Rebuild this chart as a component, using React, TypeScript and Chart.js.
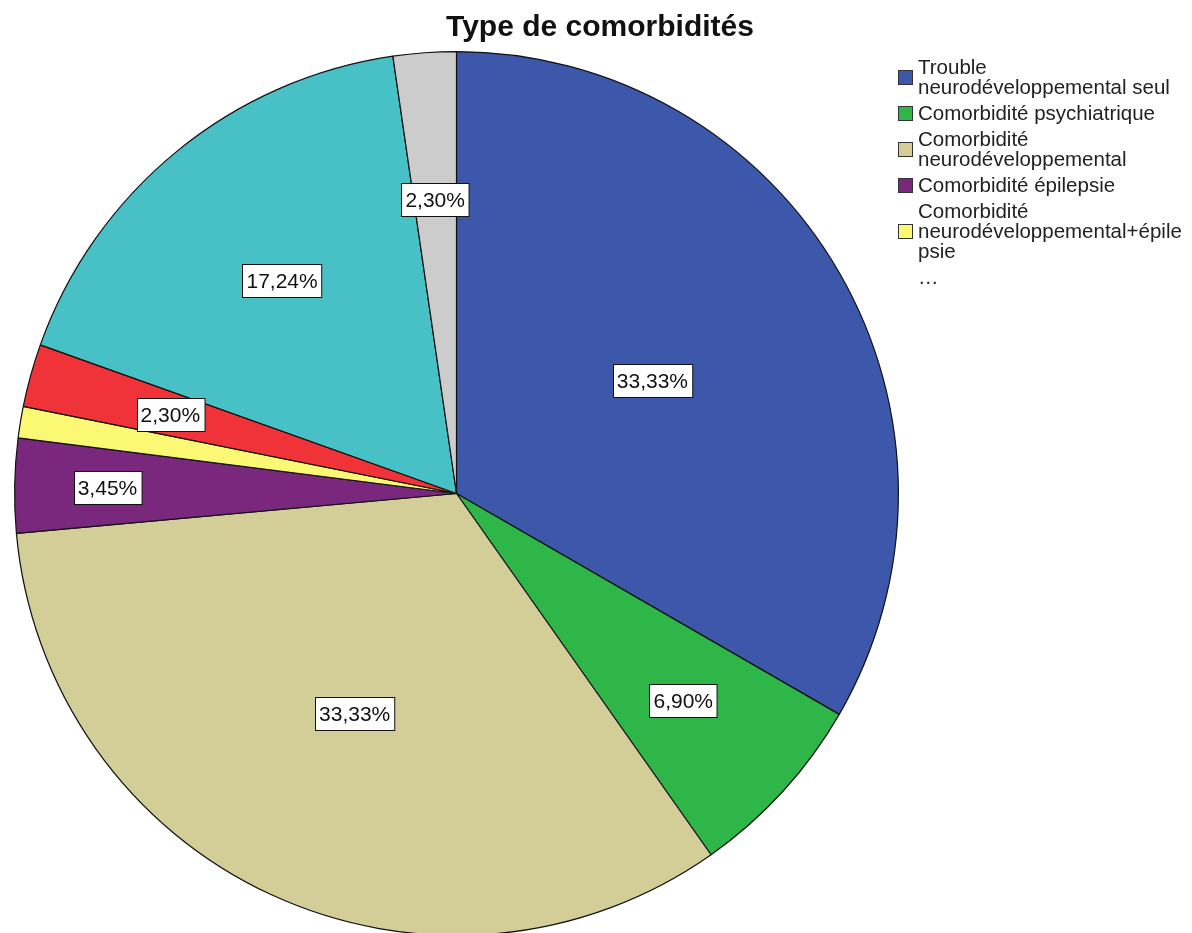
import React, { useEffect, useRef } from "react";
import { Chart, registerables } from "chart.js";

Chart.register(...registerables);

const TITLE = "Type de comorbidités";
const categories = [
  "Trouble neurodéveloppemental seul",
  "Comorbidité psychiatrique",
  "Comorbidité neurodéveloppemental",
  "Comorbidité épilepsie",
  "Comorbidité neurodéveloppemental+épilepsie",
  "Comorbidité psychiatrique+épilepsie",
  "Comorbidité neurodéveloppemental+psychiatrique",
  "Autre",
];
// legend lines as displayed (wrapped), only the first five are shown
const legendLines = [
  ["Trouble", "neurodéveloppemental seul"],
  ["Comorbidité psychiatrique"],
  ["Comorbidité", "neurodéveloppemental"],
  ["Comorbidité épilepsie"],
  ["Comorbidité", "neurodéveloppemental+épile", "psie"],
];
const percents = [33.33, 6.9, 33.33, 3.45, 1.15, 2.3, 17.24, 2.3];
const showLabel = [true, true, true, true, false, true, true, true];
const colors = [
  "#3D58AB",
  "#2EB748",
  "#D3CE97",
  "#79287E",
  "#FBF874",
  "#EF3338",
  "#48C1C6",
  "#CCCCCC",
];
const labelRadius = [0.512, 0.695, 0.549, 0.79, 0.7, 0.672, 0.623, 0.668];

const FONT = '"Liberation Sans", Arial, sans-serif';

const fmt = (v: number) => v.toFixed(2).replace(".", ",") + "%";

const overlayPlugin = {
  id: "overlay",
  afterDraw(chart: any) {
    const ctx = chart.ctx;
    ctx.save();
    // title
    ctx.fillStyle = "#111";
    ctx.font = `bold 30px ${FONT}`;
    ctx.textAlign = "center";
    ctx.textBaseline = "alphabetic";
    ctx.fillText(TITLE, 600, 36);

    const meta = chart.getDatasetMeta(0);
    ctx.font = `21px ${FONT}`;
    meta.data.forEach((arc: any, i: number) => {
      if (!showLabel[i]) return;
      const { x, y, startAngle, endAngle, outerRadius } = arc.getProps(
        ["x", "y", "startAngle", "endAngle", "outerRadius"],
        true
      );
      const mid = (startAngle + endAngle) / 2;
      const r = outerRadius * labelRadius[i];
      const cx = x + Math.cos(mid) * r;
      const cy = y + Math.sin(mid) * r;
      const text = fmt(percents[i]);
      const w = ctx.measureText(text).width + 8;
      const h = 33;
      const bx = Math.round(cx - w / 2) + 0.5;
      const by = Math.round(cy - h / 2) + 0.5;
      ctx.fillStyle = "#FFFFFF";
      ctx.fillRect(bx, by, w, h);
      ctx.strokeStyle = "#111";
      ctx.lineWidth = 1;
      ctx.strokeRect(bx, by, w, h);
      ctx.fillStyle = "#111";
      ctx.textAlign = "center";
      ctx.textBaseline = "middle";
      ctx.fillText(text, cx, by + h / 2 + 1);
    });
    ctx.restore();
  },
};

export default function App() {
  const ref = useRef<HTMLCanvasElement | null>(null);
  useEffect(() => {
    if (!ref.current) return;
    const chart = new Chart(ref.current, {
      type: "pie",
      data: {
        labels: categories,
        datasets: [
          {
            data: percents,
            backgroundColor: colors,
            borderColor: "#111111",
            borderWidth: 1.2,
          },
        ],
      },
      options: {
        responsive: false,
        animation: false,
        devicePixelRatio: 1,
        layout: { padding: { left: 14, top: 51, right: 293, bottom: 4 } },
        plugins: {
          legend: { display: false },
          title: { display: false },
          tooltip: { enabled: false },
        },
      },
      plugins: [overlayPlugin],
    });
    return () => chart.destroy();
  }, []);

  return (
    <div
      style={{
        position: "fixed",
        left: 0,
        top: 0,
        width: 1192,
        height: 940,
        background: "#fff",
        overflow: "hidden",
      }}
    >
      <canvas ref={ref} width={1192} height={940} style={{ display: "block" }} />
      <div
        style={{
          position: "absolute",
          left: 898,
          top: 57,
          fontFamily: FONT,
          fontSize: 20.5,
          lineHeight: "20px",
          color: "#222",
        }}
      >
        {legendLines.map((lines, i) => (
          <div
            key={i}
            style={{ display: "flex", alignItems: "center", marginBottom: 6 }}
          >
            <div
              style={{
                width: 13,
                height: 13,
                background: colors[i],
                border: "1px solid #333",
                marginRight: 5,
                flex: "0 0 auto",
              }}
            />
            <div style={{ whiteSpace: "nowrap" }}>
              {lines.map((l, j) => (
                <div key={j}>{l}</div>
              ))}
            </div>
          </div>
        ))}
        <div style={{ paddingLeft: 20 }}>…</div>
      </div>
    </div>
  );
}
